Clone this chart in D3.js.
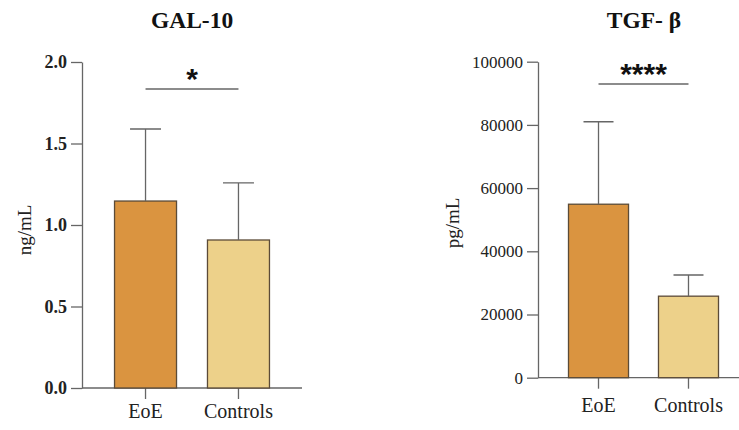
<!DOCTYPE html>
<html lang="en">
<head>
<meta charset="utf-8">
<title>GAL-10 and TGF-beta</title>
<style>
body { margin: 0; background: #fff; }
svg { display: block; }
.axis path, .axis line { stroke: #666; stroke-width: 1.3px; }
.title { font-family: "Liberation Serif", serif; font-weight: bold; font-size: 23.5px; fill: #111; }
.ylab { font-family: "Liberation Serif", serif; font-size: 19px; fill: #222; }
.err { stroke: #666; stroke-width: 1.3px; fill: none; }
.sig { stroke: #666; stroke-width: 1.5px; }
.star { font-family: "Liberation Sans", sans-serif; font-weight: bold; font-size: 30px; fill: #111; }
</style>
</head>
<body>
<svg width="739" height="430"></svg>
<script src="https://cdn.jsdelivr.net/npm/d3@7/dist/d3.min.js"></script>
<script>
var categories = ["EoE", "Controls"];
var colours = ["#DA9440", "#EDD18A"];

var galMean = [1.147, 0.908];
var galTop = [1.589, 1.258];
var galTicks = [0, 0.5, 1.0, 1.5, 2.0];

var tgfMean = [54900, 25800];
var tgfTop = [81000, 32500];
var tgfTicks = [0, 20000, 40000, 60000, 80000, 100000];

var svg = d3.select("svg");

function panel(opt) {
  var y = d3.scaleLinear().domain(opt.domain).range([opt.bottom, opt.top]);
  var x = d3.scaleBand().domain(categories).range(opt.xr).paddingInner(0.333).paddingOuter(0.35);
  var g = svg.append("g");

  // y axis
  var ya = g.append("g").attr("class", "axis")
    .attr("transform", "translate(" + opt.left + ",0)")
    .call(d3.axisLeft(y).tickValues(opt.ticks).tickFormat(opt.fmt).tickSize(11).tickSizeOuter(0).tickPadding(4));
  ya.attr("font-family", "'Liberation Serif', serif");
  ya.selectAll("text")
    .style("font-size", opt.tickFont).style("font-weight", opt.tickWeight).style("fill", "#222");

  // x axis
  var xa = g.append("g").attr("class", "axis")
    .attr("transform", "translate(0," + opt.bottom + ")")
    .call(d3.axisBottom(x).tickSize(11).tickSizeOuter(0).tickPadding(opt.catPad));
  xa.attr("font-family", "'Liberation Serif', serif");
  xa.select(".domain").attr("d", "M" + opt.left + ",0H" + opt.right);
  xa.selectAll("text").style("font-size", "20px").style("fill", "#222");

  // bars
  g.selectAll("rect.bar").data(categories).enter().append("rect")
    .attr("class", "bar")
    .attr("x", function(d) { return x(d); })
    .attr("width", x.bandwidth())
    .attr("y", function(d, i) { return y(opt.mean[i]); })
    .attr("height", function(d, i) { return opt.bottom - y(opt.mean[i]); })
    .attr("fill", function(d, i) { return colours[i]; })
    .attr("stroke", "#5b4b38")
    .attr("stroke-width", 1.3);

  // error bars (upper only)
  var cap = x.bandwidth() * 0.25;
  g.selectAll("path.err").data(categories).enter().append("path")
    .attr("class", "err")
    .attr("d", function(d, i) {
      var cx = x(d) + x.bandwidth() / 2;
      return "M" + cx + "," + y(opt.mean[i]) + "V" + y(opt.top_[i]) +
        "M" + (cx - cap) + "," + y(opt.top_[i]) + "H" + (cx + cap);
    });

  // significance
  var x0 = x(categories[0]) + x.bandwidth() / 2, x1 = x(categories[1]) + x.bandwidth() / 2;
  g.append("line").attr("class", "sig")
    .attr("x1", x0).attr("x2", x1).attr("y1", opt.sigY).attr("y2", opt.sigY);
  g.append("text").attr("class", "star")
    .attr("x", (x0 + x1) / 2).attr("y", opt.sigY)
    .attr("text-anchor", "middle").text(opt.stars);

  // title
  g.append("text").attr("class", "title")
    .attr("x", opt.titleX).attr("y", 28).attr("text-anchor", "middle").text(opt.title);

  // y label
  g.append("text").attr("class", "ylab")
    .attr("transform", "translate(" + opt.ylabX + "," + opt.ylabY + ") rotate(-90)")
    .attr("text-anchor", "middle").text(opt.ylab);
}

panel({
  domain: [0, 2], top: 62, bottom: 388, left: 82, right: 302,
  xr: [82, 302], ticks: galTicks, fmt: d3.format(".1f"),
  tickFont: "18px", tickWeight: "bold", catPad: 5,
  mean: galMean, top_: galTop, sigY: 89, stars: "*",
  title: "GAL-10", titleX: 192, ylab: "ng/mL", ylabX: 31, ylabY: 230
});

panel({
  domain: [0, 100000], top: 61.7, bottom: 377.7, left: 538, right: 739,
  xr: [537, 750], ticks: tgfTicks, fmt: d3.format("d"),
  tickFont: "17px", tickWeight: "normal", catPad: 9,
  mean: tgfMean, top_: tgfTop, sigY: 84, stars: "****",
  title: "TGF- \u03b2", titleX: 644, ylab: "pg/mL", ylabX: 459, ylabY: 223
});
</script>
</body>
</html>
